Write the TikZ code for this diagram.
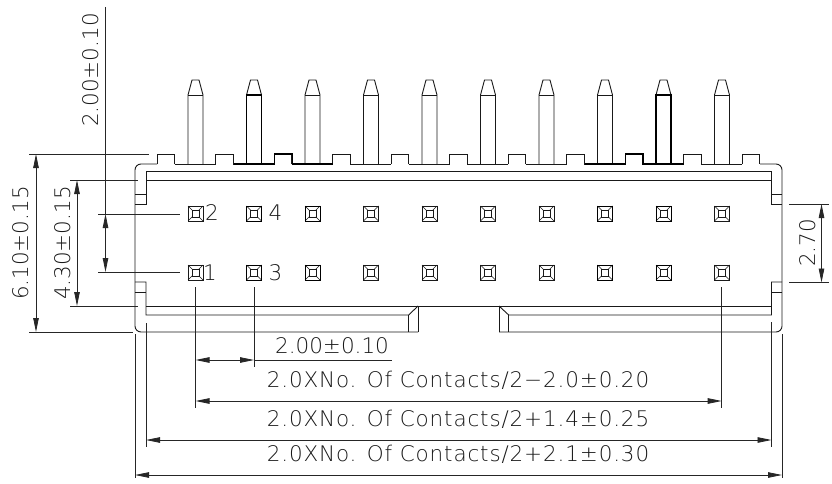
\documentclass[tikz,border=0pt]{standalone}
\usepackage{fontspec}
\setmainfont{DejaVu Sans ExtraLight}
\newfontfamily\widefont[LetterSpace=4]{DejaVu Sans ExtraLight}
\usetikzlibrary{arrows.meta}
\tikzstyle{part} = [line width=0.9pt,black!90]
\tikzstyle{heavy} = [line width=1.1pt,black]
\tikzstyle{dimline} = [line width=0.8pt,black!85]
\tikzstyle{arrow} = [dimline,{Stealth[length=14pt,width=5.5pt,inset=0pt]}-{Stealth[length=14pt,width=5.5pt,inset=0pt]}]
\tikzstyle{contact} = [line width=0.6pt,black!90]
\tikzstyle{contactbold} = [line width=0.85pt,black]
\tikzstyle{label} = [font=\fontsize{21.5}{21.5}\selectfont,inner sep=0pt,text=black!90]
\tikzstyle{widelabel} = [font=\widefont\fontsize{21.5}{21.5}\selectfont,inner sep=0pt,text=black!90]
\begin{document}
\begin{tikzpicture}[x=1pt,y=-1pt]
\useasboundingbox (0,0) rectangle (832,484);

% pins
\foreach \k in {0,...,9} {
  \pgfmathsetmacro{\px}{195.5+58.5*\k}
  \draw [part] (\px-7.5,164) -- (\px-7.5,95) -- (\px-3.5,80) -- (\px+3.5,80) -- (\px+7.5,95) -- (\px+7.5,164);
  \draw [part] (\px-7.5,95) -- (\px+7.5,95);
}
\foreach \k in {1,8} {
  \pgfmathsetmacro{\px}{195.5+58.5*\k}
  \draw [heavy] (\px-7.5,164) -- (\px-7.5,95) -- (\px+7.5,95) -- (\px+7.5,164);
}

% teeth on top of the housing
\foreach \k in {0,...,10} {
  \pgfmathsetmacro{\tx}{157+58.5*\k}
  \draw [part] (\tx,164) -- (\tx,154) -- (\tx+17.5,154) -- (\tx+17.5,164);
}
\foreach \k in {0,...,9} {
  \pgfmathsetmacro{\tx}{174.5+58.5*\k}
  \draw [part] (\tx,164) -- (\tx+41,164);
}
\draw [heavy] (233.5,164) -- (274.7,164) -- (274.7,154) -- (292.2,154) -- (292.2,164) -- (333,164);
\draw [heavy] (585,164) -- (625.5,164) -- (625.5,154) -- (643,154) -- (643,164) -- (684,164);

% housing outline
\draw [part,rounded corners=6pt] (157,164) -- (135,164) -- (135,332) -- (418,332);
\draw [part] (418,332) -- (418,306);
\draw [part,rounded corners=6pt] (760,164) -- (782,164) -- (782,332) -- (499,332);
\draw [part] (499,332) -- (499,306);

% inner walls
\draw [part] (146,180) -- (771.5,180);
\draw [part] (146,171) -- (771.5,171);
\draw [part] (146,171) -- (146,204) -- (135,204);
\draw [part] (135,194) -- (146,194);
\draw [part] (771.5,171) -- (771.5,204) -- (782,204);
\draw [part] (771.5,194) -- (782,194);
\draw [part] (135,282) -- (146,282) -- (146,315) -- (408.7,315) -- (418,306);
\draw [part] (135,292) -- (146,292);
\draw [part] (782,282) -- (771.5,282) -- (771.5,315) -- (508.7,315) -- (499,306);
\draw [part] (782,292) -- (771.5,292);
\draw [part] (146,306) -- (771.5,306);
\draw [part] (408.7,315) -- (408.7,332);
\draw [part] (508.7,315) -- (508.7,332);

% contacts
\foreach \cy in {213.5,272.5} {
  \foreach \k in {0,...,9} {
    \pgfmathsetmacro{\cx}{195.5+58.5*\k}
    \draw [contact] (\cx-7.5,\cy-7.5) rectangle (\cx+7.5,\cy+7.5);
    \draw [contact] (\cx-3.3,\cy-3.3) rectangle (\cx+3.3,\cy+3.3);
    \draw [contact] (\cx-7.5,\cy-7.5) -- (\cx-3.3,\cy-3.3);
    \draw [contact] (\cx+7.5,\cy-7.5) -- (\cx+3.3,\cy-3.3);
    \draw [contact] (\cx-7.5,\cy+7.5) -- (\cx-3.3,\cy+3.3);
    \draw [contact] (\cx+7.5,\cy+7.5) -- (\cx+3.3,\cy+3.3);
  }
  \foreach \k in {1,2,7,8} {
    \pgfmathsetmacro{\cx}{195.5+58.5*\k}
    \draw [contactbold] (\cx-7.5,\cy-7.5) rectangle (\cx+7.5,\cy+7.5);
  }
}
\node [label] (two) at (212,213) {2};
\node [label] (four) at (275.5,213) {4};
\node [label] (one) at (210,272.5) {1};
\node [label] (three) at (275.5,272.5) {3};

% dimension ends
\coordinate (u1) at (105.5,214);
\coordinate (u2) at (105.5,272);
\coordinate (ut) at (105.5,7);
\coordinate (h1) at (36,154);
\coordinate (h2) at (36,332);
\coordinate (b1) at (77,180);
\coordinate (b2) at (77,306);
\coordinate (r1) at (821.5,204);
\coordinate (r2) at (821.5,282.5);
\coordinate (c1) at (195.5,360);
\coordinate (c2) at (254,360);
\coordinate (c2e) at (392,360);
\coordinate (d1) at (195.5,401);
\coordinate (d2) at (721.7,401);
\coordinate (e1) at (146,440);
\coordinate (e2) at (771.5,440);
\coordinate (f1) at (135,475);
\coordinate (f2) at (782,475);

% extension lines
\draw [dimline] (98,214) -- (180,214);
\draw [dimline] (98,272) -- (180,272);
\draw [dimline] (29,154) -- (149,154);
\draw [dimline] (29,332) -- (133,332);
\draw [dimline] (70,180) -- (138,180);
\draw [dimline] (70,306) -- (138,306);
\draw [dimline] (789,204) -- (829,204);
\draw [dimline] (789,282.5) -- (829,282.5);
\draw [dimline] (195.5,287) -- (195.5,408);
\draw [dimline] (254,287) -- (254,367);
\draw [dimline] (721.7,287) -- (721.7,408);
\draw [dimline] (146,323) -- (146,447);
\draw [dimline] (771.5,322) -- (771.5,447);
\draw [dimline] (135,334) -- (135,478);
\draw [dimline] (782,334) -- (782,478);

% dimensions
\draw [dimline] (ut) -- (u1);
\draw [arrow] (u1) to (u2);
\draw [arrow] (h1) to (h2);
\draw [arrow] (b1) to (b2);
\draw [arrow] (r1) to (r2);
\draw [arrow] (c1) to (c2);
\draw [dimline] (c2) -- (c2e);
\draw [arrow] (d1) to (d2);
\draw [arrow] (e1) to (e2);
\draw [arrow] (f1) to (f2);

% texts
\node [label,rotate=90] (dimtop) at (90.5,70) {2.00±0.10};
\node [label,rotate=90] (dimh) at (21,243) {6.10±0.15};
\node [label,rotate=90] (dimb) at (63,243) {4.30±0.15};
\node [label,rotate=90] (dimr) at (808,243) {2.70};
\node [label] (dimc) at (332,345.5) {2.00±0.10};
\node [widelabel] (dimd) at (458,380.5) {2.0XNo. Of Contacts/2−2.0±0.20};
\node [widelabel] (dime) at (458,419.5) {2.0XNo. Of Contacts/2+1.4±0.25};
\node [widelabel] (dimf) at (458,454.5) {2.0XNo. Of Contacts/2+2.1±0.30};
\end{tikzpicture}
\end{document}
